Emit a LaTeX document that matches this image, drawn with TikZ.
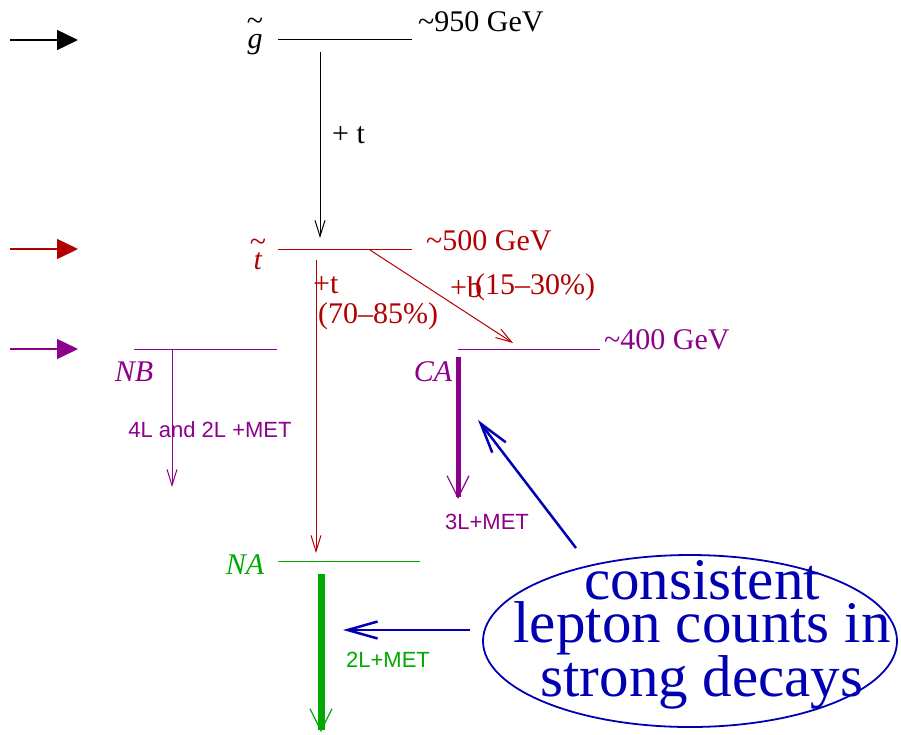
\documentclass[tikz,border=0pt]{standalone}
\usepackage{fontspec}
\setmainfont{Liberation Serif}
\setsansfont{Liberation Sans}
\usetikzlibrary{arrows.meta,shapes.geometric}
\definecolor{cred}{RGB}{178,0,0}
\definecolor{cpur}{RGB}{140,0,140}
\definecolor{cgrn}{RGB}{0,170,0}
\definecolor{cblu}{RGB}{0,0,178}
\tikzset{
  lvl/.style={line width=1pt},
  thinarr/.style={line width=1pt,-{Straight Barb[length=16pt,width=10pt]}},
  thickarr/.style={-{Straight Barb[length=22pt,width=22pt,line width=1.2pt]}},
  bluearr/.style={cblu,line width=2.5pt,-{Straight Barb[length=30pt,width=17pt,line width=2.5pt]}},
  leftarr/.style={line width=1.5pt,-{Triangle[length=21pt,width=20pt]}},
  lab/.style={inner sep=0pt,font=\fontsize{30}{32}\selectfont},
  slab/.style={inner sep=0pt,font=\sffamily\fontsize{22}{24}\selectfont},
}
\begin{document}
\begin{tikzpicture}[x=1pt,y=-1pt]
\useasboundingbox (0,0) rectangle (901,734);
% left arrows
\coordinate (a1s) at (10,40); \coordinate (a1e) at (78,40);
\coordinate (a2s) at (10,249); \coordinate (a2e) at (78,249);
\coordinate (a3s) at (10,349); \coordinate (a3e) at (78,349);
\draw[leftarr,black] (a1s) -- (a1e);
\draw[leftarr,cred] (a2s) -- (a2e);
\draw[leftarr,cpur] (a3s) -- (a3e);
% gluino
\node[lab,align=center] (gl) at (255,36) {\textasciitilde\\[-14pt]\textit{g}};
\coordinate (g1) at (278,39); \coordinate (g2) at (412,39);
\draw[lvl] (g1) -- (g2);
\node[lab,anchor=west] (gm) at (418,22) {\textasciitilde950 GeV};
\coordinate (ga) at (320,52); \coordinate (gb) at (320,238);
\draw[thinarr] (ga) -- (gb);
\node[lab,anchor=west] (pt1) at (332,135) {+ t};
% stop
\node[lab,align=center,cred] (tl) at (258,254) {\textasciitilde\\[-14pt]\textit{t}};
\coordinate (t1) at (278,249); \coordinate (t2) at (412,249);
\draw[lvl,cred] (t1) -- (t2);
\node[lab,anchor=west,cred] (tm) at (426,241) {\textasciitilde500 GeV};
\coordinate (ta) at (316,260); \coordinate (tb) at (316,553);
\draw[thinarr,cred] (ta) -- (tb);
\node[lab,anchor=west,cred] (pt2) at (313,285) {+t};
\node[lab,anchor=west,cred] (br1) at (318,316) {(70–85\%)};
\coordinate (tc) at (370,250); \coordinate (td) at (513,343);
\draw[thinarr,cred] (tc) -- (td);
\node[lab,anchor=west,cred] (pb) at (450,287) {+b};
\node[lab,anchor=west,cred] (br2) at (475,287) {(15–30\%)};
% NB
\coordinate (n1) at (134,349); \coordinate (n2) at (277,349);
\draw[lvl,cpur] (n1) -- (n2);
\node[lab,cpur] (nbl) at (134,372) {\textit{NB}};
\coordinate (na) at (172,349); \coordinate (nb) at (172,487);
\draw[thinarr,cpur] (na) -- (nb);
\node[slab,cpur] (nbt) at (210,430) {4L and 2L +MET};
% CA
\coordinate (c1) at (458,349); \coordinate (c2) at (600,349);
\draw[lvl,cpur] (c1) -- (c2);
\node[lab,anchor=west,cpur] (cm) at (604,340) {\textasciitilde400 GeV};
\node[lab,cpur] (cal) at (433,372) {\textit{CA}};
\coordinate (ca) at (458,357); \coordinate (cb) at (458,499);
\draw[thickarr,cpur,line width=5pt] (ca) -- (cb);
\node[slab,cpur] (cat) at (487,522) {3L+MET};
% NA
\coordinate (m1) at (278,561); \coordinate (m2) at (420,561);
\draw[lvl,cgrn] (m1) -- (m2);
\node[lab,cgrn] (nal) at (245,565) {\textit{NA}};
\coordinate (ma) at (321,574); \coordinate (mb) at (321,732);
\draw[thickarr,cgrn,line width=7pt] (ma) -- (mb);
\node[slab,cgrn] (nat) at (388,660) {2L+MET};
% ellipse
\node[ellipse,draw=cblu,line width=1.8pt,minimum width=414pt,minimum height=172pt,inner sep=0pt] (ell) at (690,641) {};
\node[align=center,cblu,inner sep=0pt,font=\fontsize{59}{43}\selectfont] (etxt) at (702,635) {consistent\\lepton counts in\\strong decays};
\coordinate (b1s) at (470,630); \coordinate (b1e) at (343,630);
\draw[bluearr] (b1s) -- (b1e);
\coordinate (b2s) at (576,548); \coordinate (b2e) at (478,420);
\draw[bluearr] (b2s) -- (b2e);
\end{tikzpicture}
\end{document}
